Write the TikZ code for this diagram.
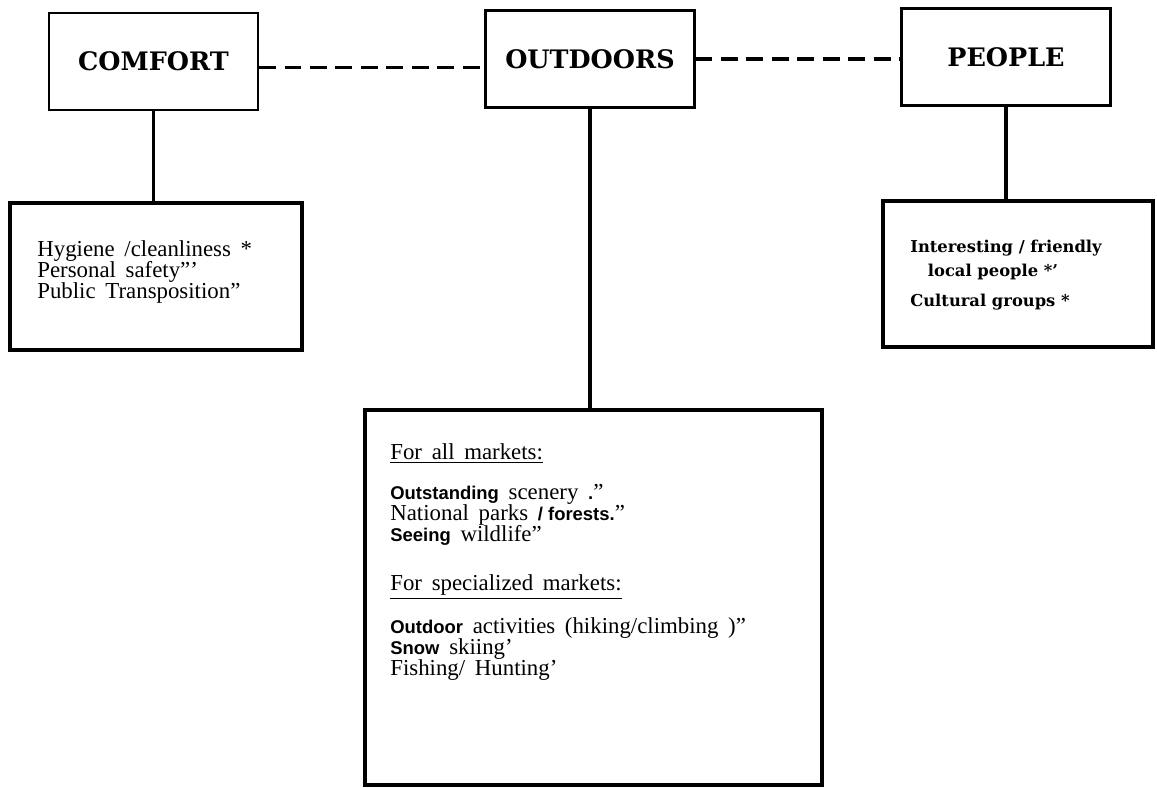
\documentclass[tikz,border=0pt]{standalone}
\usepackage{fontspec}
\setmainfont{Liberation Serif}[WordSpace=1.7]
\newfontfamily\headfont{DejaVu Serif}
\newfontfamily\markfont{Liberation Sans}
\usepackage{tikz}
\usetikzlibrary{positioning}
\tikzset{
    head/.style={
        rectangle,
        draw=black,
        line width=1.2pt,
        minimum width=4.18cm,
        minimum height=1.94cm,
        font=\headfont\bfseries\fontsize{14.5}{17}\selectfont,
    },
    listbox/.style={
        rectangle,
        draw=black,
        line width=2.2pt,
    },
    listtext/.style={
        anchor=north west,
        align=left,
        inner sep=0pt,
        font=\fontsize{13}{12}\selectfont,
    },
    peopletext/.style={
        anchor=north west,
        align=left,
        inner sep=0pt,
        font=\headfont\bfseries\fontsize{9.3}{13.7}\selectfont,
    },
    link/.style={
        line width=2pt,
    },
    dashlink/.style={
        line width=2pt,
        dash pattern=on 9.5pt off 5pt,
    },
}
\newcommand{\mk}[1]{{\markfont\bfseries\fontsize{10.5}{12}\selectfont #1}}

\begin{document}
\begin{tikzpicture}[x=0.02cm, y=-0.02cm]
    \useasboundingbox (0,0) rectangle (1157,788);

    \node[head] (comfort) at (153.5,61.5) {COMFORT};

    \node[head] (outdoors) at (590,59) {OUTDOORS};

    \node[head] (people) at (1006,57) {PEOPLE};

    \node[listbox, minimum width=5.84cm, minimum height=2.94cm] (comfortlist) at (156,276.5) {};

    \node[listbox, minimum width=9.14cm, minimum height=7.5cm] (outlist) at (593.5,597.5) {};

    \node[listbox, minimum width=5.4cm, minimum height=2.92cm] (peoplelist) at (1018,274) {};

    \node[listtext] (comforttext) at (37,240) {Hygiene /cleanliness *\\
        Personal safety”’\\
        Public Transposition”};

    \node[listtext] (outtext) at (390,443) {\underline{For all markets:}\\[10.8pt]
        \mk{Outstanding} scenery \mk{.}”\\
        National parks \mk{/ forests.}”\\
        \mk{Seeing} wildlife”\\[16pt]
        \underline{For specialized markets:}\\[9.6pt]
        \mk{Outdoor} activities (hiking/climbing )”\\
        \mk{Snow} skiing’\\
        Fishing/ Hunting’};

    \node[peopletext] (peopletext) at (910,240) {Interesting / friendly\\
        \hspace*{10pt}local people *’\\[3pt]
        Cultural groups *};

    \draw[dashlink] ([yshift=-3.4pt]comfort.east) -- ([yshift=-3.4pt]comfort.east -| outdoors.west);
    \draw[dashlink] (outdoors.east) -- (outdoors.east -| people.west);

    \draw[link] (comfort.south) -- (comfort.south |- comfortlist.north);
    \draw[link] (outdoors.south) -- (outdoors.south |- outlist.north);
    \draw[link] (people.south) -- (people.south |- peoplelist.north);
\end{tikzpicture}
\end{document}
